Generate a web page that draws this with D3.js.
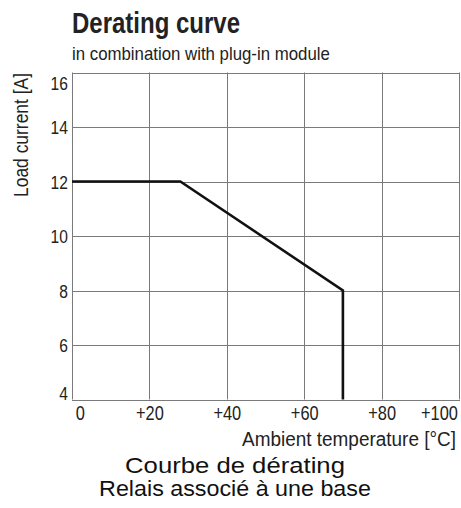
<!DOCTYPE html>
<html>
<head>
<meta charset="utf-8">
<script src="https://cdn.jsdelivr.net/npm/d3@7"></script>
<style>
  body { margin: 0; background: #fff; }
  svg { display: block; }
  text { font-family: "Liberation Sans", Arial, sans-serif; fill: #222; }
</style>
</head>
<body>
<svg></svg>
<script>
const width = 461;
const height = 508;
const margin = {left: 72, right: 1, top: 72.5, bottom: 108.5};

// data
const tempC = [0, 28, 70, 70];
const loadA = [12, 12, 8, 4];
const xTicks = [0, 20, 40, 60, 80, 100];
const yTicks = [4, 6, 8, 10, 12, 14, 16];

let svg = d3.select("svg")
     .attr("width", width)
     .attr("height", height);

// squeeze text horizontally (condensed look), by factor or to a given width
function squeeze(sel, k) {
    sel.each(function() {
        let t = d3.select(this);
        let prev = t.attr("transform") || "";
        t.attr("transform", `${prev} scale(${k}, 1)`);
    });
}
function fitTo(sel, w) {
    sel.each(function() {
        squeeze(d3.select(this), w / this.getComputedTextLength());
    });
}

function addText(x, y, str, size, weight, anchor) {
    return svg.append("text")
         .attr("transform", `translate(${x}, ${y})`)
         .style("font-size", size + "px")
         .style("font-weight", weight)
         .style("text-anchor", anchor)
         .text(str);
}

let scX = d3.scaleLinear()
     .domain([0, 100])
     .range([margin.left, width - margin.right - 1]);

let scY = d3.scaleLinear()
     .domain([4, 16])
     .range([height - margin.bottom, margin.top]);

// grid
svg.append("g")
     .selectAll("line")
     .data(xTicks)
     .enter()
     .append("line")
     .attr("x1", d => Math.round(scX(d)) + 0.5)
     .attr("x2", d => Math.round(scX(d)) + 0.5)
     .attr("y1", scY(16))
     .attr("y2", scY(4))
     .style("stroke", "#7a7a7a")
     .style("stroke-width", 1);

svg.append("g")
     .selectAll("line")
     .data(yTicks)
     .enter()
     .append("line")
     .attr("x1", scX(0))
     .attr("x2", scX(100) + 1)
     .attr("y1", d => Math.round(scY(d)) + 0.5)
     .attr("y2", d => Math.round(scY(d)) + 0.5)
     .style("stroke", "#7a7a7a")
     .style("stroke-width", 1);

// axes (labels only)
let axisY = svg.append("g")
     .attr("transform", `translate(${margin.left}, 0)`)
     .call(d3.axisLeft(scY).tickValues(yTicks).tickSize(0).tickPadding(5));
axisY.select(".domain").remove();
axisY.selectAll("text")
     .attr("font-family", null)
     .style("font-size", "19px")
     .attr("dy", d => d === 16 ? "0.9em" : (d === 4 ? "0.0em" : "0.36em"))
     .call(squeeze, 0.82);

let axisX = svg.append("g")
     .attr("transform", `translate(0, ${scY(4)})`)
     .call(d3.axisBottom(scX).tickValues(xTicks).tickSize(0).tickPadding(6)
          .tickFormat(d => d === 0 ? "0" : "+" + d));
axisX.select(".domain").remove();
axisX.selectAll("text")
     .attr("font-family", null)
     .style("font-size", "20px")
     .attr("dx", (d, i) => i === 0 ? 4 : (i === xTicks.length - 1 ? -2 : 0))
     .style("text-anchor", (d, i) => i === 0 ? "start" : (i === xTicks.length - 1 ? "end" : "middle"))
     .call(squeeze, 0.82);

// curve
let points = tempC.map((t, i) => [t, loadA[i]]);
svg.append("path")
     .datum(points)
     .attr("d", d3.line().x(d => scX(d[0])).y(d => scY(d[1])))
     .style("fill", "none")
     .style("stroke", "#111")
     .style("stroke-width", 2.6);

// titles
addText(72, 33, "Derating curve", 29, "bold", "start").call(fitTo, 168);
addText(72, 60, "in combination with plug-in module", 18, "normal", "start").call(fitTo, 258);

svg.append("text")
     .attr("transform", "translate(28, 73) rotate(-90)")
     .style("text-anchor", "end")
     .style("font-size", "20px")
     .text("Load current [A]")
     .call(fitTo, 124);

addText(456, 446, "Ambient temperature [°C]", 21, "normal", "end").call(fitTo, 214);

addText(235, 473, "Courbe de dérating", 22, "normal", "middle")
     .style("fill", "#111")
     .call(fitTo, 220);
addText(235, 496, "Relais associé à une base", 22, "normal", "middle")
     .style("fill", "#111")
     .call(fitTo, 272);
</script>
</body>
</html>
